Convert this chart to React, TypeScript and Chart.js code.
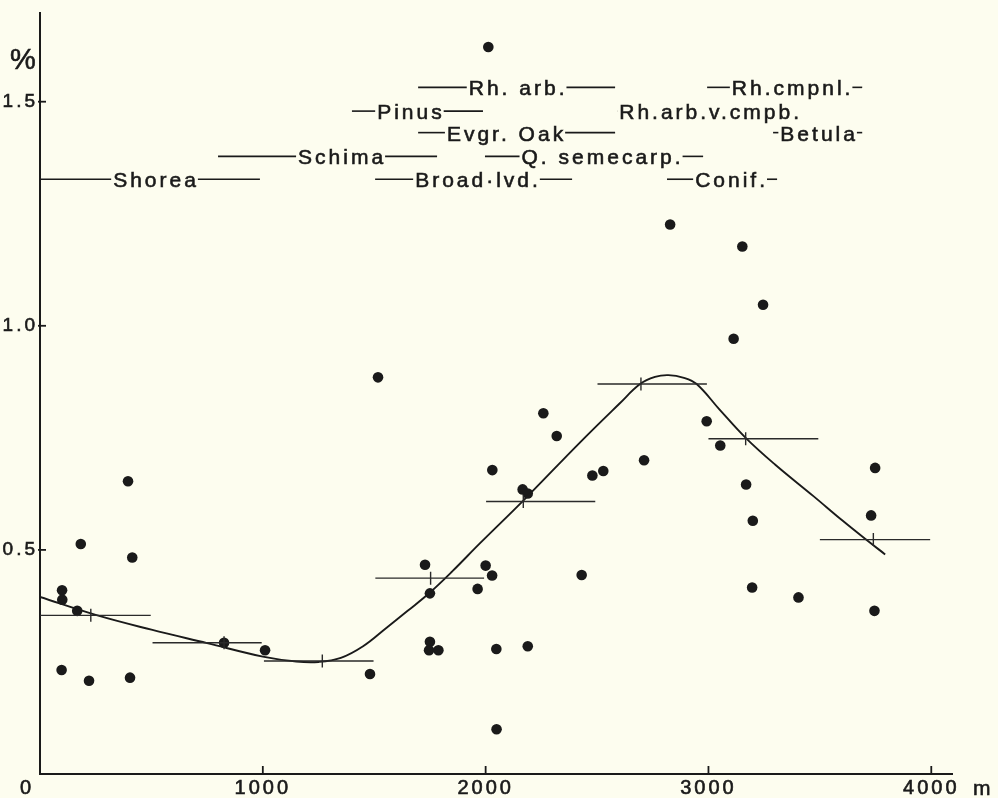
import { useEffect, useRef } from "react";
import { Chart, registerables } from "chart.js";

Chart.register(...registerables);

const PAPER = "#fdfdef";
const INK = "#1a1a1a";
const FONT = "'Liberation Sans', Arial, Helvetica, sans-serif";

// Individual samples: altitude (m) and percentage
const sampleAltitude = [
  99, 100, 167, 183, 395, 414, 97, 220, 404, 826,
  1010, 1481, 1517, 1728, 1750, 1750, 1746, 1788, 1964, 2000,
  2029, 2030, 2048, 2049, 2012, 2166, 2189, 2189, 2259, 2319,
  2431, 2479, 2528, 2711, 2828, 2992, 3053, 3113, 3152, 3245,
  3169, 3199, 3196, 3404, 3748, 3730, 3745,
];
const samplePercent = [
  0.41, 0.389, 0.364, 0.513, 0.653, 0.483, 0.232, 0.208, 0.215, 0.293,
  0.276, 0.223, 0.885, 0.467, 0.403, 0.295, 0.276, 0.276, 0.413, 0.465,
  0.443, 0.678, 0.279, 0.1, 1.622, 0.635, 0.626, 0.285, 0.805, 0.754,
  0.444, 0.666, 0.676, 0.7, 1.226, 0.787, 0.733, 0.971, 1.177, 1.047,
  0.646, 0.565, 0.416, 0.394, 0.683, 0.577, 0.364,
];

// Fitted trend curve
const curveAltitude = [0, 250, 500, 750, 1000, 1150, 1250, 1350, 1450, 1550, 1650, 1750, 1850, 1975, 2169, 2424, 2600, 2693, 2760, 2820, 2890, 2947, 3050, 3167, 3300, 3471, 3600, 3710, 3793];
const curvePercent = [0.395, 0.355, 0.322, 0.292, 0.262, 0.251, 0.25, 0.259, 0.285, 0.324, 0.364, 0.405, 0.452, 0.515, 0.61, 0.74, 0.826, 0.87, 0.886, 0.89, 0.884, 0.87, 0.813, 0.75, 0.69, 0.62, 0.566, 0.522, 0.49];

// 500 m class means
const binFrom = [0, 505, 1005, 1505, 2002, 2502, 3000, 3500];
const binTo = [497, 995, 1497, 1993, 2492, 2993, 3493, 3995];
const binMean = [0.354, 0.293, 0.252, 0.437, 0.608, 0.87, 0.748, 0.523];
const binMeanAltitude = [228, 826, 1267, 1753, 2169, 2697, 3167, 3740];

// Vegetation / species altitude ranges
const speciesName = ["Shorea", "Schima", "Pinus", "Rh. arb.", "Evgr. Oak", "Broad·lvd.", "Q. semecarp.", "Rh.arb.v.cmpb.", "Rh.cmpnl.", "Betula", "Conif."];
const speciesFrom = [0, 799, 1400, 1697, 1697, 1504, 1997, 2590, 2994, 3290, 2814];
const speciesTo = [987, 1782, 1988, 2581, 2581, 2388, 2976, 3411, 3690, 3690, 3308];
const speciesLabelAt = [514, 1349, 1658, 2139, 2087, 1959, 2518, 3003, 3371, 3490, 3097];
const speciesLevel = [1.327, 1.378, 1.479, 1.532, 1.431, 1.327, 1.378, 1.479, 1.532, 1.431, 1.327];

const xTicks = [0, 1000, 2000, 3000, 4000];
const yTicks = [0.5, 1.0, 1.5];

const paperPlugin = {
  id: "paper",
  beforeDraw(chart: any) {
    const { ctx, width, height } = chart;
    ctx.save();
    ctx.fillStyle = PAPER;
    ctx.fillRect(0, 0, width, height);
    ctx.restore();
    ctx.letterSpacing = "3px";
  },
};

const decorPlugin = {
  id: "decor",
  afterDraw(chart: any) {
    const { ctx, chartArea } = chart;
    const x = chart.scales.x;
    const y = chart.scales.y;
    ctx.save();
    ctx.strokeStyle = INK;
    ctx.fillStyle = INK;
    // inward tick marks
    ctx.lineWidth = 1.8;
    xTicks.forEach((v) => {
      if (v === 0) return;
      const px = x.getPixelForValue(v);
      ctx.beginPath();
      ctx.moveTo(px, chartArea.bottom);
      ctx.lineTo(px, chartArea.bottom - 8);
      ctx.stroke();
    });
    yTicks.forEach((v) => {
      const py = y.getPixelForValue(v);
      ctx.beginPath();
      ctx.moveTo(chartArea.left - 2, py);
      ctx.lineTo(chartArea.left + 6, py);
      ctx.stroke();
    });

    // species ranges
    ctx.font = `21px ${FONT}`;
    ctx.letterSpacing = "3px";
    ctx.textAlign = "left";
    ctx.textBaseline = "alphabetic";
    speciesName.forEach((name, i) => {
      const py = y.getPixelForValue(speciesLevel[i]);
      const x0 = x.getPixelForValue(speciesFrom[i]);
      const x1 = x.getPixelForValue(speciesTo[i]);
      const cx = x.getPixelForValue(speciesLabelAt[i]);
      const w = ctx.measureText(name).width - 3;
      const tl = cx - w / 2;
      const tr = cx + w / 2;
      ctx.lineWidth = 0.6;
      ctx.fillText(name, tl, py + 8);
      ctx.strokeText(name, tl, py + 8);
      ctx.lineWidth = 1.6;
      if (tl - 2 > x0) {
        ctx.beginPath();
        ctx.moveTo(x0, py);
        ctx.lineTo(tl - 2, py);
        ctx.stroke();
      }
      if (x1 > tr + 2) {
        ctx.beginPath();
        ctx.moveTo(tr + 2, py);
        ctx.lineTo(x1, py);
        ctx.stroke();
      }
    });

    // unit labels
    ctx.letterSpacing = "0px";
    ctx.lineWidth = 0.6;
    ctx.font = `29px ${FONT}`;
    ctx.textAlign = "center";
    ctx.textBaseline = "middle";
    ctx.fillText("%", 23, 61);
    ctx.strokeText("%", 23, 61);
    ctx.font = `21px ${FONT}`;
    ctx.textAlign = "left";
    ctx.textBaseline = "alphabetic";
    ctx.fillText("m", 973, 795);
    ctx.strokeText("m", 973, 795);
    ctx.restore();
  },
};

export default function App() {
  const canvasRef = useRef<HTMLCanvasElement | null>(null);

  useEffect(() => {
    if (!canvasRef.current) return;
    const samples = sampleAltitude.map((a, i) => ({ x: a, y: samplePercent[i] }));
    const curve = curveAltitude.map((a, i) => ({ x: a, y: curvePercent[i] }));
    const bins: any[] = [];
    binFrom.forEach((f, i) => {
      bins.push({ x: f, y: binMean[i] });
      bins.push({ x: binTo[i], y: binMean[i] });
      bins.push({ x: binTo[i] + 1, y: null });
    });
    const binTicks = binMeanAltitude.map((a, i) => ({ x: a, y: binMean[i] }));

    const tickFont = { family: FONT, size: 20 };

    const chart = new Chart(canvasRef.current, {
      type: "scatter",
      data: {
        datasets: [
          {
            type: "line",
            data: bins,
            borderColor: "#2a2a2a",
            borderWidth: 1.4,
            pointRadius: 0,
            spanGaps: false,
            fill: false,
          } as any,
          {
            type: "scatter",
            data: binTicks,
            pointStyle: "line",
            rotation: 90,
            pointRadius: 6.5,
            pointBorderColor: "#2a2a2a",
            pointBorderWidth: 1.4,
          } as any,
          {
            type: "line",
            data: curve,
            borderColor: INK,
            borderWidth: 1.9,
            pointRadius: 0,
            tension: 0.4,
            fill: false,
          } as any,
          {
            type: "scatter",
            data: samples,
            pointRadius: 5.3,
            pointBackgroundColor: INK,
            pointBorderWidth: 0,
            pointStyle: "circle",
          } as any,
        ],
      },
      options: {
        responsive: false,
        animation: false,
        layout: { padding: { top: 10, right: 46, left: 0, bottom: 0 } },
        plugins: { legend: { display: false }, tooltip: { enabled: false } },
        scales: {
          x: {
            type: "linear",
            min: 0,
            max: 4093,
            afterFit: (s: any) => {
              s.height = 24;
            },
            afterBuildTicks: (s: any) => {
              s.ticks = xTicks.map((v) => ({ value: v }));
            },
            grid: { display: false, drawTicks: false },
            border: { display: true, color: INK, width: 2 },
            ticks: {
              autoSkip: false,
              maxRotation: 0,
              padding: 2,
              color: INK,
              textStrokeColor: INK,
              textStrokeWidth: 0.6,
              font: tickFont,
              callback: (v: any) => (Number(v) === 0 ? "0   " : String(v)),
            },
          },
          y: {
            type: "linear",
            min: 0,
            max: 1.697,
            afterFit: (s: any) => {
              s.width = 40;
            },
            afterBuildTicks: (s: any) => {
              s.ticks = yTicks.map((v) => ({ value: v }));
            },
            grid: { display: false, drawTicks: false },
            border: { display: true, color: INK, width: 2 },
            ticks: {
              padding: 2,
              color: INK,
              textStrokeColor: INK,
              textStrokeWidth: 0.6,
              font: { family: FONT, size: 19 },
              callback: (v: any) => Number(v).toFixed(1),
            },
          },
        },
      } as any,
      plugins: [paperPlugin, decorPlugin],
    });
    return () => chart.destroy();
  }, []);

  return (
    <div style={{ position: "fixed", inset: 0, background: PAPER }}>
      <canvas ref={canvasRef} width={998} height={798} style={{ display: "block" }} />
    </div>
  );
}
